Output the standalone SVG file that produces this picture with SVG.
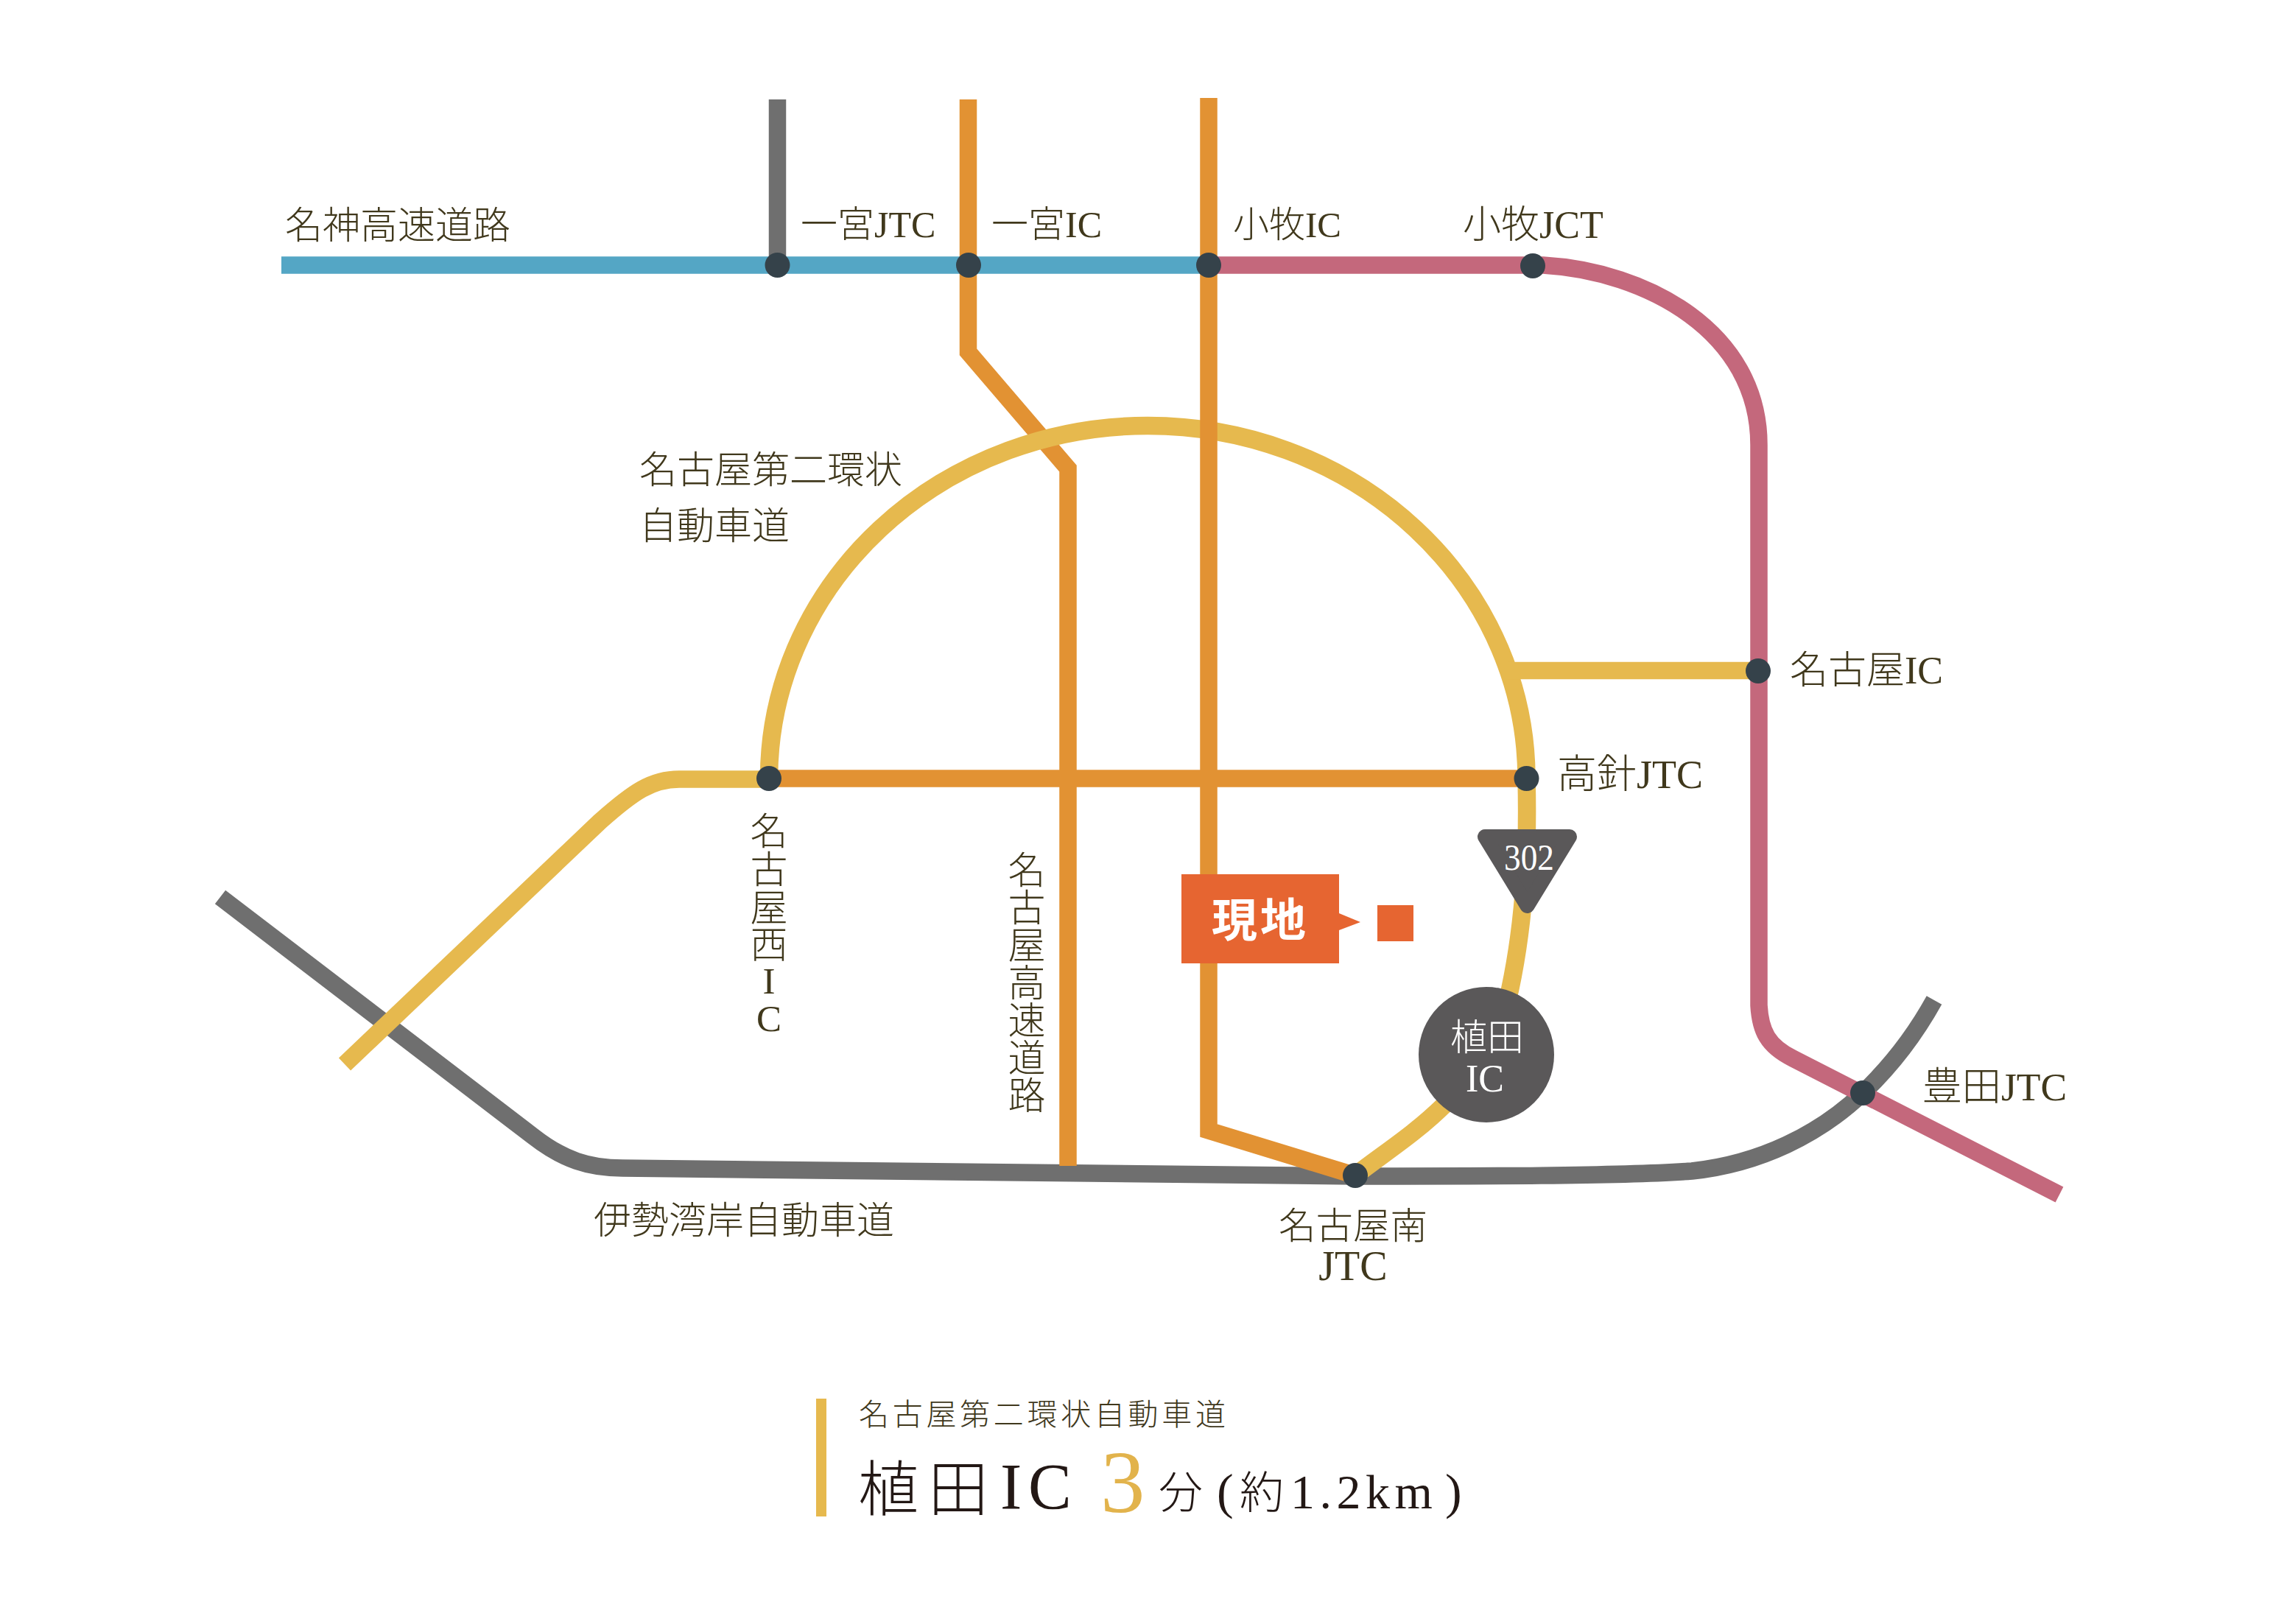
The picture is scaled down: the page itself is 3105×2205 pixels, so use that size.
<svg xmlns="http://www.w3.org/2000/svg" width="3105" height="2205" viewBox="0 0 3105 2205">
<style>
text{font-family:"Liberation Serif","Noto Sans CJK JP",serif;font-weight:300}
.l{font-size:51px;fill:#40381c}
.v{font-size:51px;fill:#40381c;text-anchor:middle}
.m{text-anchor:middle}
.w{fill:#fff;text-anchor:middle}
.r{fill:none;stroke-linejoin:miter;stroke-width:23.5}
.g{stroke:#6f6f6f}.b{stroke:#54a6c5}.o{stroke:#e29233}.y{stroke:#e6b94e}.p{stroke:#c4687c}
.d{fill:#35424a}
</style>
<rect width="3105" height="2205" fill="#fff"/>
<g id="connectors">
<path class="r g" d="M1055.500,135V360"/>
<path class="r g" d="M299,1218L724,1543C765,1575 800,1586 845,1586L1840,1597C2000,1597 2200,1597 2297,1590C2390,1580 2470,1540 2529,1484C2570,1445 2600,1405 2626,1358"/>
<path class="r b" d="M382,360H1641"/>
<path class="r p" d="M1641,360H2095C2235,368 2388,450 2388,604V1365C2390,1400 2400,1420 2434,1437L2796,1622"/>
<path class="r o" d="M1314.500,135V478L1450,636V1583"/>
<path class="r y" style="stroke-width:24.500" d="M1044,1057A514,479 0 0 1 2072.500,1057C2075,1150 2070,1250 2050,1344C2030,1430 1980,1485 1959,1502C1920,1540 1880,1565 1840,1596"/>
<path class="r y" d="M2047,910.500H2388"/>
<path class="r y" d="M1044,1058H922C885,1058 860,1075 815,1115L468,1445"/>
<path class="r o" d="M1641,133V1535L1840,1596"/>
<path class="r o" d="M1044,1057H2072"/>
</g>
<g id="dots">
<circle class="d" cx="1055.500" cy="360" r="17"/>
<circle class="d" cx="1315" cy="360" r="17"/>
<circle class="d" cx="1641" cy="360" r="17"/>
<circle class="d" cx="2081" cy="361" r="17"/>
<circle class="d" cx="2387" cy="911" r="17"/>
<circle class="d" cx="2072.500" cy="1057" r="17"/>
<circle class="d" cx="1044" cy="1057" r="17"/>
<circle class="d" cx="2529" cy="1484" r="17"/>
<circle class="d" cx="1840" cy="1596" r="17"/>
</g>
<g id="route302">
<path d="M2016,1136H2131L2073.500,1230Z" fill="#5a5859" stroke="#5a5859" stroke-width="20" stroke-linejoin="round"/>
<text class="w" x="2076" y="1181" font-size="50" textLength="68" lengthAdjust="spacingAndGlyphs">302</text>
</g>
<g id="ueda-ic">
<circle cx="2018" cy="1432" r="92" fill="#5a5859"/>
<text class="w" x="2019" y="1426" font-size="50">植田</text>
<text class="w" x="2016" y="1482" font-size="52">IC</text>
</g>
<g id="site">
<path d="M1604,1187H1818V1240L1847,1252L1818,1263V1308H1604Z" fill="#e66531"/>
<rect x="1870" y="1229" width="49" height="49" fill="#e66531"/>
<text x="1645" y="1272" font-size="62" fill="#fff" letter-spacing="4" style="font-weight:700">現地</text>
</g>
<g id="labels">
<text class="l" x="387" y="324">名神高速道路</text>
<text class="l" x="1087" y="322" style="font-size:50px">一宮JTC</text>
<text class="l" x="1346" y="322" style="font-size:50px">一宮IC</text>
<text class="l" x="1674" y="322" style="font-size:49px">小牧IC</text>
<text class="l" x="1986" y="323" style="font-size:52px">小牧JCT</text>
<text class="l" x="868" y="656">名古屋第二環状</text>
<text class="l" x="868" y="732">自動車道</text>
<text class="l" x="2430" y="928" style="font-size:52px">名古屋IC</text>
<text class="l" x="2114" y="1070" style="font-size:54px">高針JTC</text>
<text class="v" x="1044 1044 1044 1044 1044 1044" y="1147 1199 1251 1301 1349 1400">名古屋西IC</text>
<text class="v" x="1394 1394 1394 1394 1394 1394 1394" y="1200 1251 1302 1353 1404 1455 1506">名古屋高速道路</text>
<text class="l" x="806" y="1675">伊勢湾岸自動車道</text>
<text class="l m" x="1837" y="1682" style="font-size:50.500px">名古屋南</text>
<text class="l m" x="1837" y="1738" style="font-size:56px">JTC</text>
<text class="l" x="2610" y="1494" style="font-size:53.500px">豊田JTC</text>
</g>
<g id="legend">
<rect x="1108" y="1899" width="14" height="160" fill="#e6b94e"/>
<text x="1166" y="1935" font-size="41" fill="#40381c" letter-spacing="4.700">名古屋第二環状自動車道</text>
<text y="2051" fill="#231815"><tspan x="1165" font-size="82" letter-spacing="13">植田</tspan><tspan x="1358 1396" y="2048" font-size="88">IC</tspan><tspan x="1494" y="2053" font-size="121" fill="#e2b34c">3</tspan><tspan x="1573" y="2048" font-size="60">分</tspan><tspan x="1652" font-size="68">(</tspan><tspan x="1683" font-size="60">約</tspan><tspan x="1752" font-size="66" letter-spacing="6.500">1.2km</tspan><tspan x="1962" font-size="68">)</tspan></text>
</g>
</svg>
